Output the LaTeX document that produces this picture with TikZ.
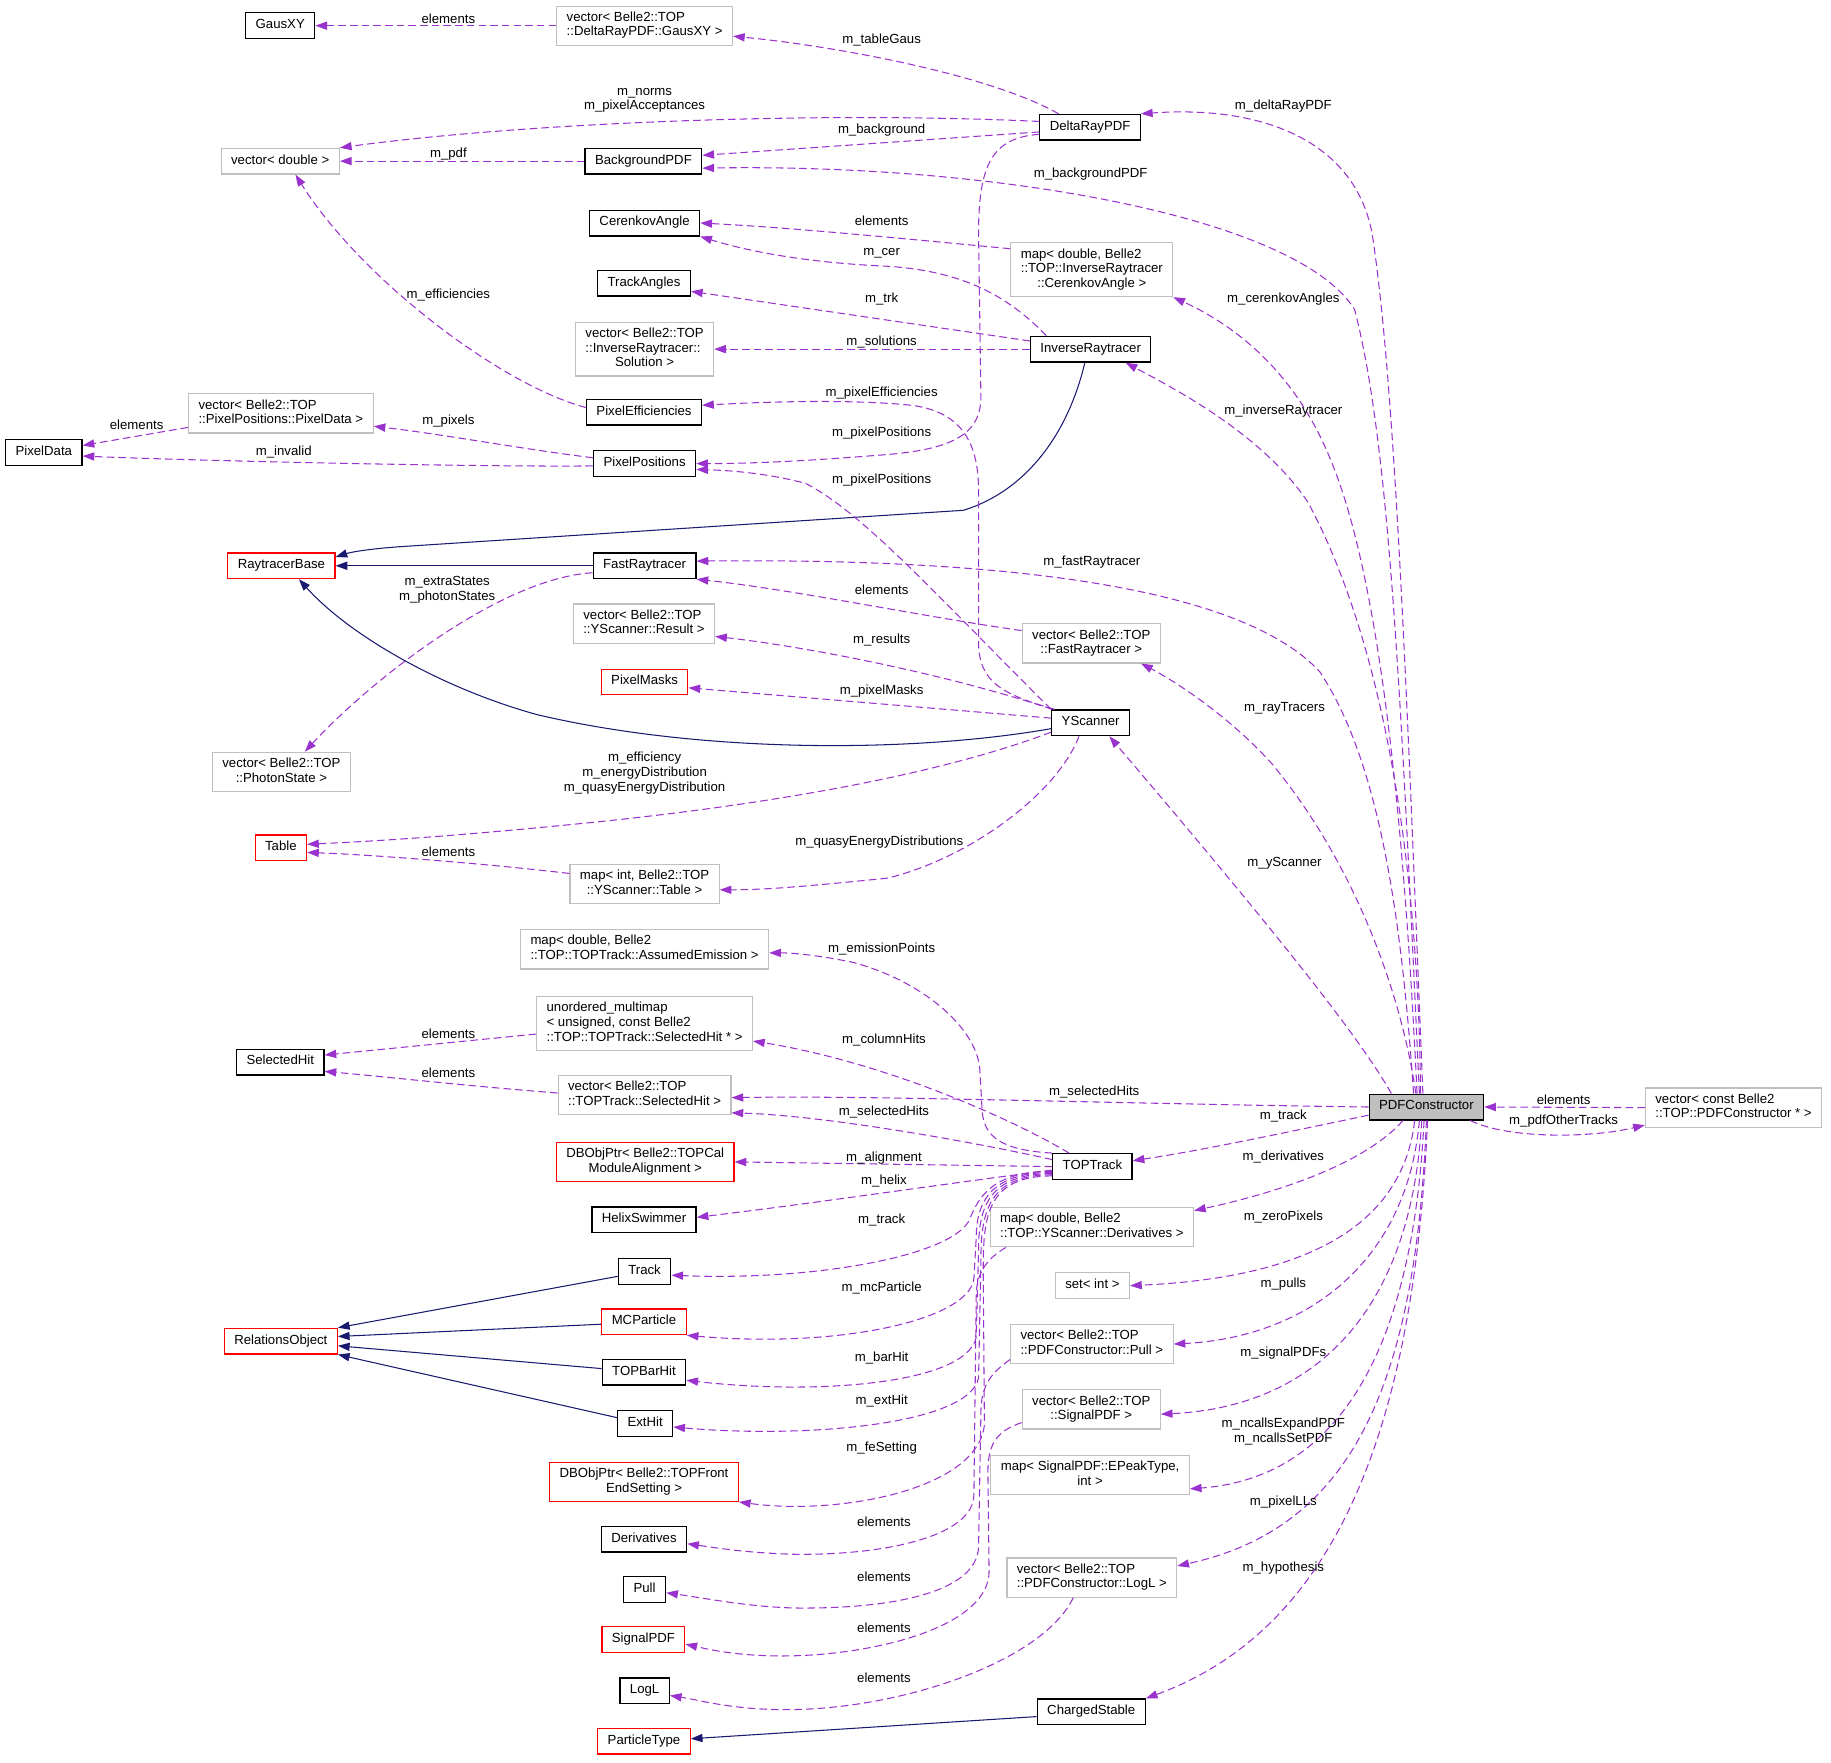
\documentclass[tikz,border=0pt]{standalone}
\usepackage{fontspec}
\setmainfont{Liberation Sans}
\usetikzlibrary{arrows.meta}
\definecolor{dxpurple}{HTML}{9A32CD}
\definecolor{dxnavy}{HTML}{191970}
\definecolor{dxgray}{HTML}{BFBFBF}
\newcommand{\dxfont}{\fontsize{11.3}{12.5}\selectfont}
\newcommand{\dlabel}[2]{\begin{tabular}{@{}l@{}}#1\\\multicolumn{1}{@{}c@{}}{#2}\end{tabular}}
\tikzset{
  dbox/.style={draw, fill=white, font=\dxfont, inner xsep=8.5pt, inner ysep=4.25pt, minimum height=22pt, execute at begin node=\strut},
  cls/.style={dbox, draw=black, line width=1.1pt},
  tmpl/.style={dbox, draw=dxgray, line width=1pt},
  undoc/.style={dbox, draw=red, line width=1pt},
  curbox/.style={dbox, draw=black, fill=dxgray, line width=1.1pt},
  member/.style={color=dxpurple, line width=0.9pt, dash pattern=on 6.5pt off 3.5pt, -{Triangle[length=10pt,width=7pt]}},
  inherit/.style={color=dxnavy, line width=0.9pt, -{Triangle[length=10pt,width=7pt]}},
  elbl/.style={font=\dxfont, inner sep=0pt, align=center, text=black},
}
\begin{document}
\begin{tikzpicture}[x=1pt,y=-1pt]
\useasboundingbox (0,0) rectangle (1568,1509);

\node[cls] (gausxy) at (240,22) {GausXY};
\node[tmpl] (vgaus) at (552,22) {\dlabel{vector< Belle2::TOP}{::DeltaRayPDF::GausXY >}};
\node[tmpl] (vdouble) at (240,138) {vector< double >};
\node[cls] (bgpdf) at (551,138) {BackgroundPDF};
\node[cls] (deltaray) at (933.5,109) {DeltaRayPDF};
\node[cls] (cerangle) at (552,191) {CerenkovAngle};
\node[tmpl] (mcerangle) at (935,231) {\dlabel{map< double, Belle2\\::TOP::InverseRaytracer}{::CerenkovAngle >}};
\node[cls] (trkangles) at (551.5,242.5) {TrackAngles};
\node[tmpl] (vsolution) at (552,299) {\dlabel{vector< Belle2::TOP\\::InverseRaytracer::}{Solution >}};
\node[cls] (invray) at (934,299) {InverseRaytracer};
\node[cls] (pixeff) at (551.5,353) {PixelEfficiencies};
\node[tmpl] (vpixdata) at (240.5,354) {\dlabel{vector< Belle2::TOP}{::PixelPositions::PixelData >}};
\node[cls] (pixdata) at (37.5,387.5) {PixelData};
\node[cls] (pixpos) at (552,397) {PixelPositions};
\node[undoc] (raybase) at (241,484.5) {RaytracerBase};
\node[cls] (fastray) at (552,484.5) {FastRaytracer};
\node[tmpl] (vresult) at (551.5,534) {\dlabel{vector< Belle2::TOP}{::YScanner::Result >}};
\node[tmpl] (vfastray) at (934.5,551) {\dlabel{vector< Belle2::TOP}{::FastRaytracer >}};
\node[undoc] (pixmask) at (552,584) {PixelMasks};
\node[cls] (yscan) at (934,619) {YScanner};
\node[tmpl] (vphoton) at (241,661) {\dlabel{vector< Belle2::TOP}{::PhotonState >}};
\node[undoc] (table) at (240.5,726) {Table};
\node[tmpl] (mtable) at (552,757) {\dlabel{map< int, Belle2::TOP}{::YScanner::Table >}};
\node[tmpl] (memission) at (552,813) {\dlabel{map< double, Belle2}{::TOP::TOPTrack::AssumedEmission >}};
\node[tmpl] (umulti) at (552,876.5) {\dlabel{unordered\_multimap\\< unsigned, const Belle2}{::TOP::TOPTrack::SelectedHit * >}};
\node[cls] (selhit) at (240,909.5) {SelectedHit};
\node[tmpl] (vselhit) at (552,938) {\dlabel{vector< Belle2::TOP}{::TOPTrack::SelectedHit >}};
\node[curbox] (pdfc) at (1221.5,948) {PDFConstructor};
\node[tmpl] (vpdfc) at (1484.5,948.5) {\dlabel{vector< const Belle2}{::TOP::PDFConstructor * >}};
\node[undoc] (alignptr) at (552.5,995) {\dlabel{DBObjPtr< Belle2::TOPCal}{ModuleAlignment >}};
\node[cls] (toptrack) at (935.5,999) {TOPTrack};
\node[cls] (helix) at (551.5,1044.5) {HelixSwimmer};
\node[tmpl] (mderiv) at (935,1051) {\dlabel{map< double, Belle2}{::TOP::YScanner::Derivatives >}};
\node[cls] (track) at (552,1089) {Track};
\node[tmpl] (setint) at (935.5,1101) {set< int >};
\node[undoc] (mcpart) at (551.5,1132) {MCParticle};
\node[undoc] (relobj) at (240.5,1148.5) {RelationsObject};
\node[tmpl] (vpull) at (935,1151) {\dlabel{vector< Belle2::TOP}{::PDFConstructor::Pull >}};
\node[cls] (barhit) at (551.5,1175) {TOPBarHit};
\node[tmpl] (vsignal) at (934.5,1207) {\dlabel{vector< Belle2::TOP}{::SignalPDF >}};
\node[cls] (exthit) at (552.5,1219) {ExtHit};
\node[tmpl] (mpeak) at (933.5,1263) {\dlabel{map< SignalPDF::EPeakType,}{int >}};
\node[undoc] (fesetting) at (551.5,1269) {\dlabel{DBObjPtr< Belle2::TOPFront}{EndSetting >}};
\node[cls] (deriv) at (551.5,1318) {Derivatives};
\node[tmpl] (vlogl) at (935,1351) {\dlabel{vector< Belle2::TOP}{::PDFConstructor::LogL >}};
\node[cls] (pull) at (552,1361) {Pull};
\node[undoc] (signal) at (551,1404) {SignalPDF};
\node[cls] (logl) at (552,1448) {LogL};
\node[cls] (charged) at (934.5,1466) {ChargedStable};
\node[undoc] (ptype) at (551.5,1491) {ParticleType};

\draw[member] (vgaus.west) -- (gausxy.east) node[elbl] at (384,16) {elements};
\draw[member] ([xshift=-27pt]deltaray.north) .. controls (850,65) and (720,40) .. ([yshift=-9pt]vgaus.east) node[elbl] at (755,34) {m\_tableGaus};
\draw[member] ([yshift=5pt]deltaray.west) .. controls (700,95) and (450,105) .. (vdouble.north east) node[elbl] at (552,86) {m\_norms\\m\_pixelAcceptances};
\draw[member] ([yshift=-4pt]deltaray.west) -- ([yshift=5pt]bgpdf.east) node[elbl] at (755,111) {m\_background};
\draw[member] (bgpdf.west) -- (vdouble.east) node[elbl] at (384,132) {m\_pdf};
\draw[member] ([yshift=4pt]pixeff.west) .. controls (430,330) and (310,240) .. ([xshift=13pt]vdouble.south) node[elbl] at (384,253) {m\_efficiencies};
\draw[member] ([xshift=-3pt]pdfc.north) .. controls (1205,600) and (1195,330) .. (1175,200) .. controls (1160,120) and (1080,90) .. (deltaray.north east) node[elbl] at (1099,91) {m\_deltaRayPDF};
\draw[member] ([xshift=-6pt]pdfc.north) .. controls (1200,600) and (1190,380) .. (1160,265) .. controls (1110,185) and (850,140) .. ([yshift=-6pt]bgpdf.east) node[elbl] at (934,149) {m\_backgroundPDF};
\draw[member] ([yshift=18pt]mcerangle.west) .. controls (780,205) and (680,195) .. (cerangle.east) node[elbl] at (755,189) {elements};
\draw[member] ([xshift=-38pt]invray.north) .. controls (860,250) and (820,232) .. (760,228) .. controls (690,225) and (640,215) .. (cerangle.south east) node[elbl] at (755,217) {m\_cer};
\draw[member] ([yshift=7pt]invray.west) -- ([yshift=-7pt]trkangles.east) node[elbl] at (755,256) {m\_trk};
\draw[member] (invray.west) -- (vsolution.east) node[elbl] at (755,293) {m\_solutions};
\draw[member] ([xshift=-8pt]pdfc.north) .. controls (1200,650) and (1175,480) .. (1140,395) .. controls (1110,320) and (1060,280) .. (mcerangle.south east) node[elbl] at (1099,256) {m\_cerenkovAngles};
\draw[member] ([xshift=-5pt]pdfc.north) .. controls (1215,760) and (1190,560) .. (1120,430) .. controls (1080,370) and (1000,330) .. ([xshift=30pt]invray.south) node[elbl] at (1099,352) {m\_inverseRaytracer};
\draw[inherit] ([xshift=-5pt]invray.south) .. controls (915,370) and (880,420) .. (825,437) -- (345,468) .. controls (315,470) and (300,473) .. ([yshift=-4pt]raybase.north east);
\draw[member] ([yshift=5pt]pixpos.west) .. controls (450,385) and (380,372) .. ([yshift=-11pt]vpixdata.east) node[elbl] at (384,361) {m\_pixels};
\draw[member] ([yshift=-2pt]pixpos.west) .. controls (400,400) and (150,394) .. ([yshift=-3pt]pixdata.east) node[elbl] at (243,387) {m\_invalid};
\draw[member] ([yshift=-12pt]vpixdata.west) -- ([yshift=6pt]pixdata.east) node[elbl] at (117,364) {elements};
\draw[member] ([yshift=-6pt]deltaray.west) .. controls (850,118) and (838,140) .. (838,200) -- (840,340) .. controls (840,375) and (810,386) .. (750,390) .. controls (700,394) and (650,397) .. (pixpos.east) node[elbl] at (755,371) {m\_pixelPositions};
\draw[member] (yscan.north west) .. controls (800,508) and (740,440) .. (690,414) .. controls (660,406) and (630,403) .. ([yshift=-5pt]pixpos.east) node[elbl] at (755,411) {m\_pixelPositions};
\draw[member] ([xshift=3pt]yscan.north west) .. controls (860,595) and (838,585) .. (838,550) -- (838,420) .. controls (838,375) and (820,352) .. (780,347) .. controls (720,341) and (640,345) .. ([yshift=6pt]pixeff.east) node[elbl] at (755,337) {m\_pixelEfficiencies};
\draw[member] ([yshift=11pt]vfastray.west) .. controls (790,528) and (680,505) .. (fastray.south east) node[elbl] at (755,505) {elements};
\draw[member] ([xshift=-11pt]pdfc.north) .. controls (1200,780) and (1180,650) .. (1130,575) .. controls (1060,500) and (850,478) .. ([yshift=4pt]fastray.east) node[elbl] at (935,481) {m\_fastRaytracer};
\draw[inherit] (fastray.west) -- (raybase.east);
\draw[member] ([yshift=-6pt]fastray.west) .. controls (430,495) and (320,580) .. ([xshift=20pt]vphoton.north) node[elbl] at (383,505) {m\_extraStates\\m\_photonStates};
\draw[member] ([xshift=1pt]yscan.north west) .. controls (820,580) and (700,555) .. ([yshift=-11pt]vresult.east) node[elbl] at (755,548) {m\_results};
\draw[member] ([yshift=4pt]yscan.west) -- ([yshift=-5pt]pixmask.east) node[elbl] at (755,592) {m\_pixelMasks};
\draw[inherit] ([yshift=-5pt]yscan.west) .. controls (780,645) and (600,645) .. (460,612) .. controls (380,590) and (300,545) .. ([xshift=15pt]raybase.south);
\draw[member] ([xshift=-9pt]pdfc.north) .. controls (1200,850) and (1160,740) .. (1090,655) .. controls (1050,610) and (1000,580) .. ([xshift=-17pt]vfastray.south east) node[elbl] at (1100,607) {m\_rayTracers};
\draw[member] ([yshift=-8pt]yscan.west) .. controls (800,665) and (650,690) .. (500,705) .. controls (400,715) and (330,720) .. ([yshift=3pt]table.east) node[elbl] at (552,662) {m\_efficiency\\m\_energyDistribution\\m\_quasyEnergyDistribution};
\draw[member] ([yshift=9pt]mtable.west) .. controls (420,740) and (320,732) .. ([yshift=-4pt]table.east) node[elbl] at (384,729) {elements};
\draw[member] ([xshift=-10pt]yscan.south) .. controls (905,680) and (830,735) .. (760,752) .. controls (700,758) and (660,762) .. ([yshift=-5pt]mtable.east) node[elbl] at (753,721) {m\_quasyEnergyDistributions};
\draw[member] ([xshift=-30pt]pdfc.north) .. controls (1160,880) and (1060,760) .. ([xshift=16pt]yscan.south) node[elbl] at (1100,739) {m\_yScanner};

\draw[member] (toptrack.north west) .. controls (860,985) and (842,975) .. (841,950) -- (839,915) .. controls (836,880) and (790,840) .. (730,824) .. controls (700,818) and (680,816) .. ([yshift=-3pt]memission.east) node[elbl] at (755,813) {m\_emissionPoints};
\draw[member] ([xshift=-20pt]toptrack.north) .. controls (870,960) and (760,910) .. ([yshift=-15pt]umulti.east) node[elbl] at (757,891) {m\_columnHits};
\draw[member] ([yshift=-9pt]umulti.west) -- ([yshift=6pt]selhit.east) node[elbl] at (384,885) {elements};
\draw[member] ([yshift=2pt]vselhit.west) .. controls (400,930) and (330,922) .. ([yshift=-8pt]selhit.east) node[elbl] at (384,919) {elements};
\draw[member] (pdfc.west) .. controls (950,945) and (750,938) .. ([yshift=-2pt]vselhit.east) node[elbl] at (937,935) {m\_selectedHits};
\draw[member] ([yshift=6pt]toptrack.west) .. controls (820,975) and (700,955) .. ([yshift=-15pt]vselhit.east) node[elbl] at (757,952) {m\_selectedHits};
\draw[member] (toptrack.west) -- (alignptr.east) node[elbl] at (757,992) {m\_alignment};
\draw[member] ([yshift=-3pt]toptrack.west) .. controls (800,1015) and (700,1030) .. ([yshift=2pt]helix.east) node[elbl] at (757,1011) {m\_helix};
\draw[member] ([yshift=-4pt]toptrack.west) .. controls (850,1003) and (838,1025) .. (830,1045) .. controls (815,1075) and (700,1097) .. ([yshift=-3pt]track.east) node[elbl] at (755,1045) {m\_track};
\draw[member] ([yshift=-5pt]toptrack.west) .. controls (848,1004) and (836,1030) .. (836,1060) -- (834,1095) .. controls (830,1130) and (720,1155) .. (mcpart.south east) node[elbl] at (755,1103) {m\_mcParticle};
\draw[member] ([yshift=-6pt]toptrack.west) .. controls (846,1005) and (838,1035) .. (838,1070) -- (836,1145) .. controls (828,1185) and (700,1195) .. ([yshift=-7pt]barhit.east) node[elbl] at (755,1163) {m\_barHit};
\draw[member] ([yshift=-7pt]toptrack.west) .. controls (845,1006) and (840,1040) .. (840,1080) -- (838,1180) .. controls (830,1220) and (690,1232) .. ([yshift=-3pt]exthit.east) node[elbl] at (755,1200) {m\_extHit};
\draw[member] ([yshift=-8pt]toptrack.west) .. controls (843,1007) and (842,1045) .. (842,1090) -- (843,1220) .. controls (838,1275) and (720,1298) .. (fesetting.south east) node[elbl] at (755,1240) {m\_feSetting};
\draw[member] ([xshift=14pt]mderiv.south west) .. controls (845,1078) and (836,1090) .. (836,1110) -- (834,1280) .. controls (834,1315) and (760,1332) .. (680,1331) .. controls (640,1330) and (610,1325) .. ([yshift=-4pt]deriv.east) node[elbl] at (757,1303) {elements};
\draw[member] ([yshift=4pt]vpull.south west) .. controls (850,1175) and (840,1185) .. (840,1210) -- (838,1325) .. controls (836,1365) and (760,1378) .. (680,1377) .. controls (640,1376) and (600,1368) .. ([yshift=-3pt]pull.east) node[elbl] at (757,1350) {elements};
\draw[member] ([yshift=6pt]vsignal.south west) .. controls (855,1225) and (846,1235) .. (846,1260) -- (847,1345) .. controls (848,1395) and (740,1420) .. (660,1418) .. controls (625,1417) and (605,1412) .. ([yshift=-4pt]signal.east) node[elbl] at (757,1394) {elements};
\draw[member] ([xshift=-16pt]vlogl.south) .. controls (895,1420) and (780,1462) .. (680,1464) .. controls (630,1465) and (600,1456) .. ([yshift=-4pt]logl.east) node[elbl] at (757,1437) {elements};

\draw[member] ([yshift=-7pt]pdfc.west) .. controls (1100,970) and (1030,985) .. ([yshift=5pt]toptrack.east) node[elbl] at (1099,956) {m\_track};
\draw[member] ([xshift=-20pt]pdfc.south) .. controls (1170,995) and (1100,1020) .. ([yshift=-3pt]mderiv.north east) node[elbl] at (1099,991) {m\_derivatives};
\draw[member] ([xshift=-10pt]pdfc.south) .. controls (1200,1060) and (1100,1095) .. (setint.east) node[elbl] at (1099,1042) {m\_zeroPixels};
\draw[member] ([xshift=-6pt]pdfc.south) .. controls (1205,1080) and (1120,1145) .. (vpull.east) node[elbl] at (1099,1100) {m\_pulls};
\draw[member] ([xshift=-4pt]pdfc.south) .. controls (1208,1130) and (1120,1205) .. ([yshift=-4pt]vsignal.east) node[elbl] at (1099,1159) {m\_signalPDFs};
\draw[member] ([xshift=-2pt]pdfc.south) .. controls (1210,1150) and (1150,1265) .. ([yshift=-12pt]mpeak.east) node[elbl] at (1099,1226) {m\_ncallsExpandPDF\\m\_ncallsSetPDF};
\draw[member] (pdfc.south) .. controls (1212,1200) and (1150,1310) .. ([yshift=10pt]vlogl.east) node[elbl] at (1099,1286) {m\_pixelLLs};
\draw[member] ([xshift=1pt]pdfc.south) .. controls (1210,1250) and (1130,1400) .. (charged.north east) node[elbl] at (1099,1343) {m\_hypothesis};
\draw[member] (vpdfc.west) -- (pdfc.east) node[elbl] at (1339,942) {elements};
\draw[member] ([xshift=-12pt]pdfc.south east) .. controls (1290,975) and (1360,975) .. ([yshift=-15pt]vpdfc.west) node[elbl] at (1339,960) {m\_pdfOtherTracks};

\draw[inherit] ([yshift=-4pt]track.west) -- (relobj.north east);
\draw[inherit] ([yshift=-2pt]mcpart.west) -- ([yshift=4pt]relobj.east);
\draw[inherit] ([yshift=3pt]barhit.west) -- ([yshift=-4pt]relobj.east);
\draw[inherit] ([yshift=5pt]exthit.west) -- (relobj.south east);
\draw[inherit] ([yshift=-4pt]charged.west) -- ([yshift=2pt]ptype.east);
\end{tikzpicture}
\end{document}
